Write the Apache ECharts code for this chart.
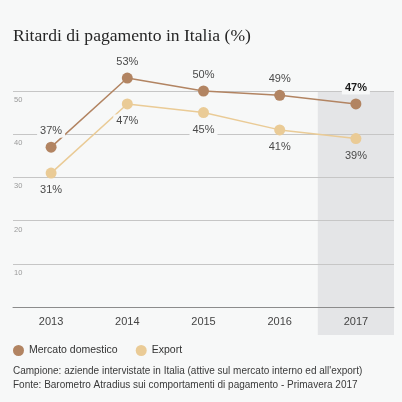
<!DOCTYPE html>
<html><head><meta charset="utf-8">
<script src="https://cdn.jsdelivr.net/npm/echarts@6/dist/echarts.min.js"></script>
<style>html,body{margin:0;padding:0;background:#f7f8f8}#c{width:402px;height:402px}</style>
</head><body><div id="c"></div>
<script>
const years = ['2013','2014','2015','2016','2017'];
const domestico = [37, 53, 50, 49, 47];
const exportVals = [31, 47, 45, 41, 39];
const yTicks = [10, 20, 30, 40, 50];
const highlightYear = '2017';

const SANS = "'Liberation Sans','Arial',sans-serif";
const BG = '#f7f8f8';
const BAND = '#e4e5e7';
const C_DOM = '#b28462';
const C_EXP = '#eacb96';

function items(vals, isDom) {
  return vals.map((v, i) => {
    const it = { value: v };
    if (years[i] === highlightYear) {
      it.label = isDom ? { fontWeight: 'bold', color: '#1a1a1a' } : { backgroundColor: 'transparent' };
    }
    return it;
  });
}

const chart = echarts.init(document.getElementById('c'), null, { renderer: 'canvas' });
const option = {
  backgroundColor: BG,
  animation: false,
  title: [{
    text: 'Ritardi di pagamento in Italia (%)',
    left: 8, top: 22,
    textStyle: { fontFamily: "'Liberation Serif','DejaVu Serif',serif", fontSize: 17.6, fontWeight: 'normal', color: '#262626' }
  }, {
    text: "Campione: aziende intervistate in Italia (attive sul mercato interno ed all'export)\nFonte: Barometro Atradius sui comportamenti di pagamento - Primavera 2017",
    left: 8, top: 359,
    textStyle: { fontFamily: SANS, fontSize: 10, fontWeight: 'normal', color: '#3a3a3a', lineHeight: 14 }
  }],
  legend: {
    left: 8, top: 340,
    icon: 'circle', itemWidth: 11, itemHeight: 11, itemGap: 18,
    textStyle: { fontFamily: SANS, fontSize: 10.5, color: '#333' },
    data: ['Mercato domestico', 'Export']
  },
  grid: { left: 13, right: 8, top: 91, bottom: 95, containLabel: false },
  xAxis: {
    type: 'category', data: years, boundaryGap: true,
    axisLine: { lineStyle: { color: '#8c8c8c', width: 1 } },
    axisTick: { alignWithLabel: true, length: 4, lineStyle: { color: '#8c8c8c' } },
    axisLabel: { fontFamily: SANS, fontSize: 11, color: '#444', margin: 9 }
  },
  yAxis: {
    type: 'value', min: 0, max: 50, interval: 10,
    axisLine: { show: false }, axisTick: { show: false },
    splitLine: { lineStyle: { color: '#c6c6c6', width: 1 } },
    axisLabel: {
      inside: true, margin: 1, verticalAlign: 'top', padding: [5, 0, 0, 0],
      fontFamily: SANS, fontSize: 7.5, color: '#9a9a9a',
      formatter: v => (yTicks.indexOf(v) >= 0 ? String(v) : '')
    }
  },
  series: [{
    name: 'Mercato domestico', type: 'line', data: items(domestico, true),
    clip: false, symbol: 'circle', symbolSize: 11, z: 5,
    itemStyle: { color: C_DOM }, lineStyle: { color: C_DOM, width: 1.5 },
    label: { show: true, position: 'top', distance: 4, formatter: '{c}%', fontFamily: SANS, fontSize: 11, color: '#4a4a4a', backgroundColor: BG, padding: [1, 3] }
  }, {
    name: 'Export', type: 'line', data: items(exportVals, false),
    clip: false, symbol: 'circle', symbolSize: 11, z: 4,
    itemStyle: { color: C_EXP }, lineStyle: { color: C_EXP, width: 1.5 },
    label: { show: true, position: 'bottom', distance: 5, formatter: '{c}%', fontFamily: SANS, fontSize: 11, color: '#4a4a4a', backgroundColor: BG, padding: [1, 3] }
  }]
};
chart.setOption(option);

const xH = chart.convertToPixel({ xAxisIndex: 0 }, highlightYear);
const xPrev = chart.convertToPixel({ xAxisIndex: 0 }, years[years.indexOf(highlightYear) - 1]);
const bw = xH - xPrev;
const yTop = chart.convertToPixel({ yAxisIndex: 0 }, 50);
const yZero = chart.convertToPixel({ yAxisIndex: 0 }, 0);
chart.setOption({
  graphic: [{
    type: 'rect', z: -10, silent: true,
    shape: { x: xH - bw / 2, y: yTop, width: bw, height: yZero - yTop + 28 },
    style: { fill: BAND }
  }]
});
</script></body></html>
